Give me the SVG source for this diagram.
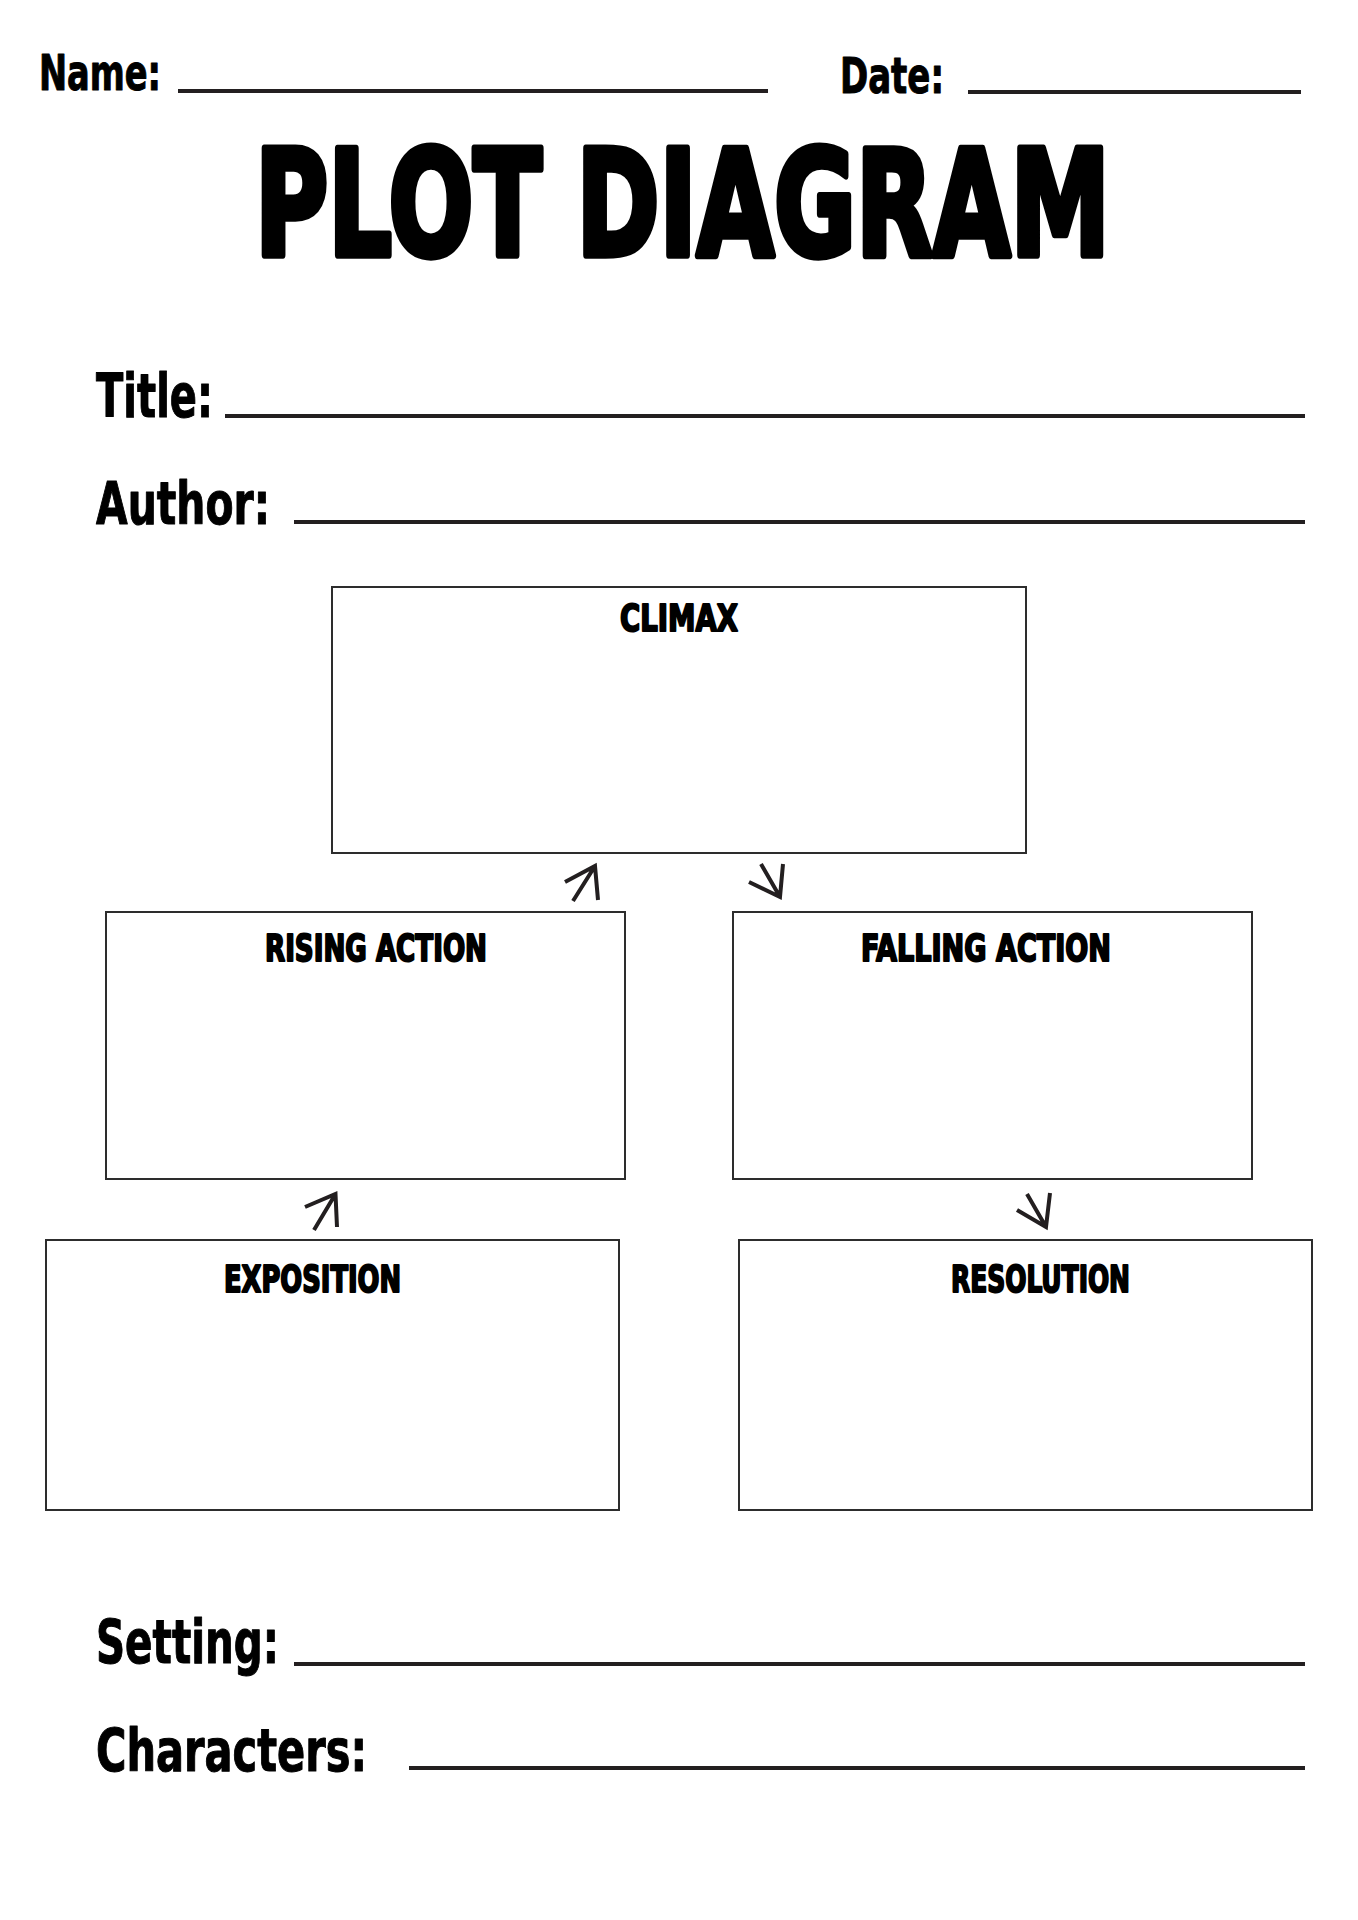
<svg xmlns="http://www.w3.org/2000/svg" width="1358" height="1920" viewBox="0 0 1358 1920">
<defs>
<style>
.lbl{font-family:"Liberation Sans Narrow","DejaVu Sans Condensed","Liberation Sans",sans-serif;font-weight:bold;fill:#000;stroke:#000;stroke-width:1;stroke-linejoin:round}
.big{font-family:"DejaVu Sans","Liberation Sans",sans-serif;font-weight:bold;fill:#000;stroke:#000;stroke-width:5;stroke-linejoin:round}
.head{font-family:"Liberation Sans Narrow","DejaVu Sans Condensed","Liberation Sans",sans-serif;font-weight:bold;fill:#000;stroke:#000;stroke-width:2;stroke-linejoin:round;font-size:37px}
.rule{stroke:#231f20;stroke-width:4;fill:none}
.box{fill:#fff;stroke:#2d2d2d;stroke-width:2}
.arr{stroke:#231f20;stroke-width:4;fill:none;stroke-linecap:butt;stroke-linejoin:miter}
</style>
</defs>
<rect x="0" y="0" width="1358" height="1920" fill="#fff"/>

<g id="name-field">
<text class="lbl" x="39" y="90" font-size="50" textLength="122" lengthAdjust="spacingAndGlyphs">Name:</text>
<line class="rule" x1="178" y1="91" x2="768" y2="91"/>
</g>
<g id="date-field">
<text class="lbl" x="840" y="93" font-size="50" textLength="104" lengthAdjust="spacingAndGlyphs">Date:</text>
<line class="rule" x1="968" y1="92" x2="1301" y2="92"/>
</g>

<g id="heading">
<text class="big" transform="translate(255,255) scale(1,1.46)" x="0" y="0" font-size="100" textLength="855" lengthAdjust="spacingAndGlyphs">PLOT DIAGRAM</text>
</g>

<g id="title-field">
<text class="lbl" x="96" y="417" font-size="60" textLength="117" lengthAdjust="spacingAndGlyphs">Title:</text>
<line class="rule" x1="225" y1="416" x2="1305" y2="416"/>
</g>
<g id="author-field">
<text class="lbl" x="96" y="524" font-size="58" textLength="174" lengthAdjust="spacingAndGlyphs">Author:</text>
<line class="rule" x1="294" y1="522" x2="1305" y2="522"/>
</g>

<g id="climax">
<rect class="box" x="332" y="587" width="694" height="266"/>
<text class="head" x="620" y="631" textLength="118" lengthAdjust="spacingAndGlyphs">CLIMAX</text>
</g>
<g id="rising-action">
<rect class="box" x="106" y="912" width="519" height="267"/>
<text class="head" x="265" y="961" textLength="222" lengthAdjust="spacingAndGlyphs">RISING ACTION</text>
</g>
<g id="falling-action">
<rect class="box" x="733" y="912" width="519" height="267"/>
<text class="head" x="861" y="961" textLength="250" lengthAdjust="spacingAndGlyphs">FALLING ACTION</text>
</g>
<g id="exposition">
<rect class="box" x="46" y="1240" width="573" height="270"/>
<text class="head" x="224" y="1292" textLength="177" lengthAdjust="spacingAndGlyphs">EXPOSITION</text>
</g>
<g id="resolution">
<rect class="box" x="739" y="1240" width="573" height="270"/>
<text class="head" x="951" y="1292" textLength="179" lengthAdjust="spacingAndGlyphs">RESOLUTION</text>
</g>

<g id="connectors">
<path class="arr" d="M573,901 L595,866 M565,882 L595,866 L598,900"/>
<path class="arr" d="M761,864 L780,897 M749,882 L780,897 L783,864"/>
<path class="arr" d="M314,1230 L335.5,1194 M305,1207 L335.5,1194 L337,1227"/>
<path class="arr" d="M1027,1194 L1046,1227 M1017,1210 L1046,1227 L1050,1193"/>
</g>

<g id="setting-field">
<text class="lbl" x="96" y="1663" font-size="60" textLength="183" lengthAdjust="spacingAndGlyphs">Setting:</text>
<line class="rule" x1="294" y1="1664" x2="1305" y2="1664"/>
</g>
<g id="characters-field">
<text class="lbl" x="96" y="1771" font-size="58" textLength="271" lengthAdjust="spacingAndGlyphs">Characters:</text>
<line class="rule" x1="409" y1="1768" x2="1305" y2="1768"/>
</g>
</svg>
